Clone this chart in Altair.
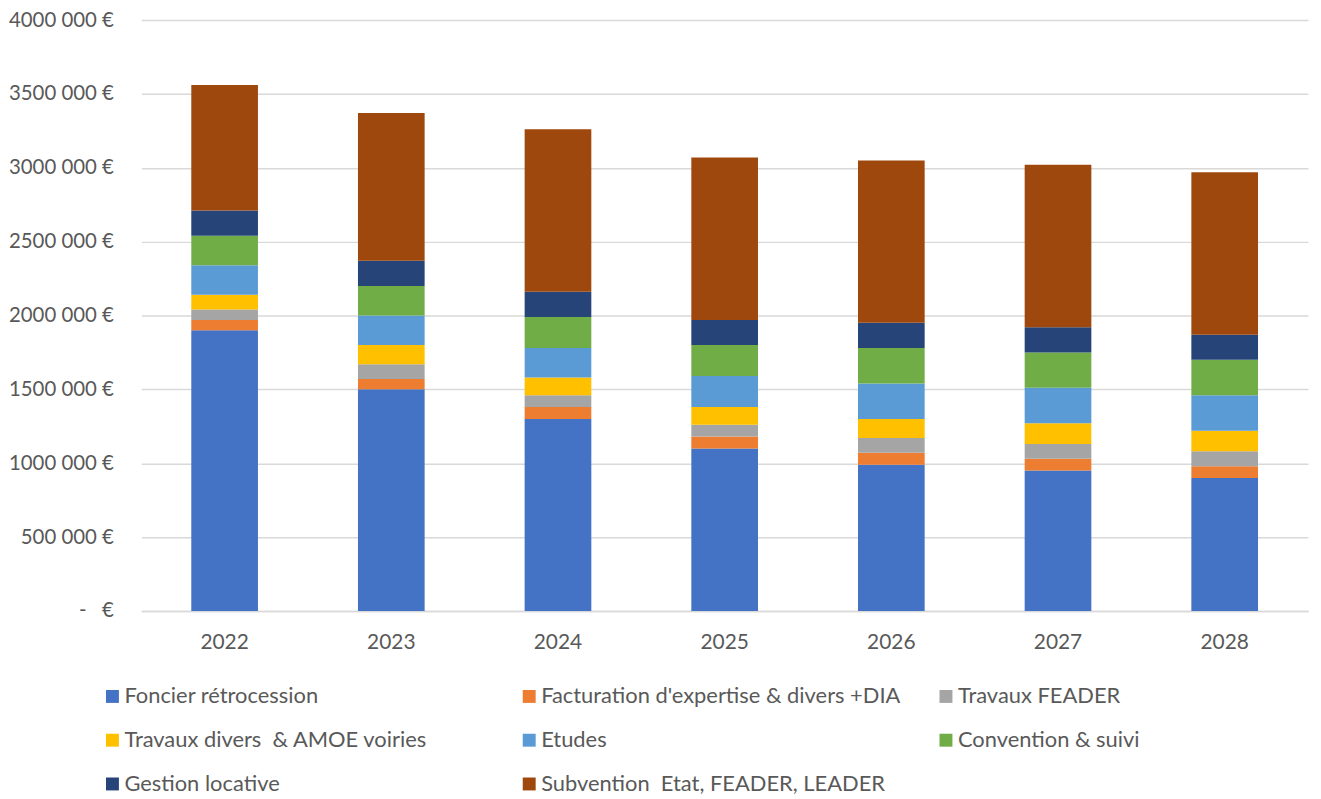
import altair as alt
import pandas as pd

nb = "\u00a0"

years = ["2022", "2023", "2024", "2025", "2026", "2027", "2028"]
series = [
    "Foncier rétrocession",
    "Facturation d'expertise & divers +DIA",
    "Travaux FEADER",
    "Travaux divers " + nb + "& AMOE voiries",
    "Etudes",
    "Convention & suivi",
    "Gestion locative",
    "Subvention " + nb + "Etat, FEADER, LEADER",
]
colors = ["#4472C4", "#ED7D31", "#A5A5A5", "#FFC000", "#5B9BD5", "#70AD47", "#264478", "#9E480E"]

foncier = [1900000, 1500000, 1300000, 1100000, 990000, 950000, 900000]
facturation = [70000, 70000, 80000, 80000, 80000, 80000, 80000]
travaux_feader = [70000, 100000, 80000, 80000, 100000, 100000, 100000]
travaux_divers = [100000, 130000, 120000, 120000, 130000, 140000, 140000]
etudes = [200000, 200000, 200000, 210000, 240000, 240000, 240000]
convention = [200000, 200000, 210000, 210000, 240000, 240000, 240000]
gestion = [170000, 170000, 170000, 170000, 170000, 170000, 170000]
subvention = [850000, 1000000, 1100000, 1100000, 1100000, 1100000, 1100000]

values = [foncier, facturation, travaux_feader, travaux_divers, etudes, convention, gestion, subvention]

rows = []
for i, (name, vals) in enumerate(zip(series, values)):
    for y, v in zip(years, vals):
        rows.append({"annee": y, "poste": name, "montant": v, "idx": i})
df = pd.DataFrame(rows)

FONT = "Lato"
TXT = "#595959"

chart = alt.Chart(df).mark_bar().encode(
    x=alt.X("annee:N", sort=years, title=None,
            scale=alt.Scale(paddingInner=0.6, paddingOuter=0.3),
            axis=alt.Axis(labelAngle=0, labelFont=FONT, labelFontSize=21, labelColor=TXT,
                          ticks=False, domainColor="#D9D9D9", domainWidth=1.5,
                          labelPadding=21)),
    y=alt.Y("montant:Q", title=None, stack="zero",
            scale=alt.Scale(domain=[0, 4000000], nice=False),
            axis=alt.Axis(values=[0, 500000, 1000000, 1500000, 2000000, 2500000, 3000000, 3500000, 4000000],
                          labelExpr=f"datum.value == 0 ? '-{nb}{nb}{nb}€' : floor(datum.value/1000) + '{nb}' + format(datum.value % 1000, '03d') + '{nb}€'",
                          labelFont=FONT, labelFontSize=20.5, labelColor=TXT,
                          ticks=False, domain=False, gridColor="#D9D9D9", gridWidth=1.5,
                          labelPadding=28)),
    color=alt.Color("poste:N", sort=series,
                    scale=alt.Scale(domain=series, range=colors),
                    legend=alt.Legend(title=None, orient="none", legendX=-40, legendY=669,
                                      direction="horizontal",
                                      columns=3, gridAlign="all", columnPadding=34, rowPadding=22,
                                      symbolType="square", symbolSize=169, symbolStrokeWidth=0,
                                      labelFont=FONT, labelFontSize=22, labelColor=TXT,
                                      labelLimit=600, labelOffset=1)),
    order=alt.Order("idx:Q", sort="ascending"),
).properties(
    width=1173, height=594,
    padding={"left": 0, "top": 0, "right": 5, "bottom": 5},
).configure_view(stroke=None)

chart.save("out.html", embed_options={"renderer": "svg", "actions": False})
